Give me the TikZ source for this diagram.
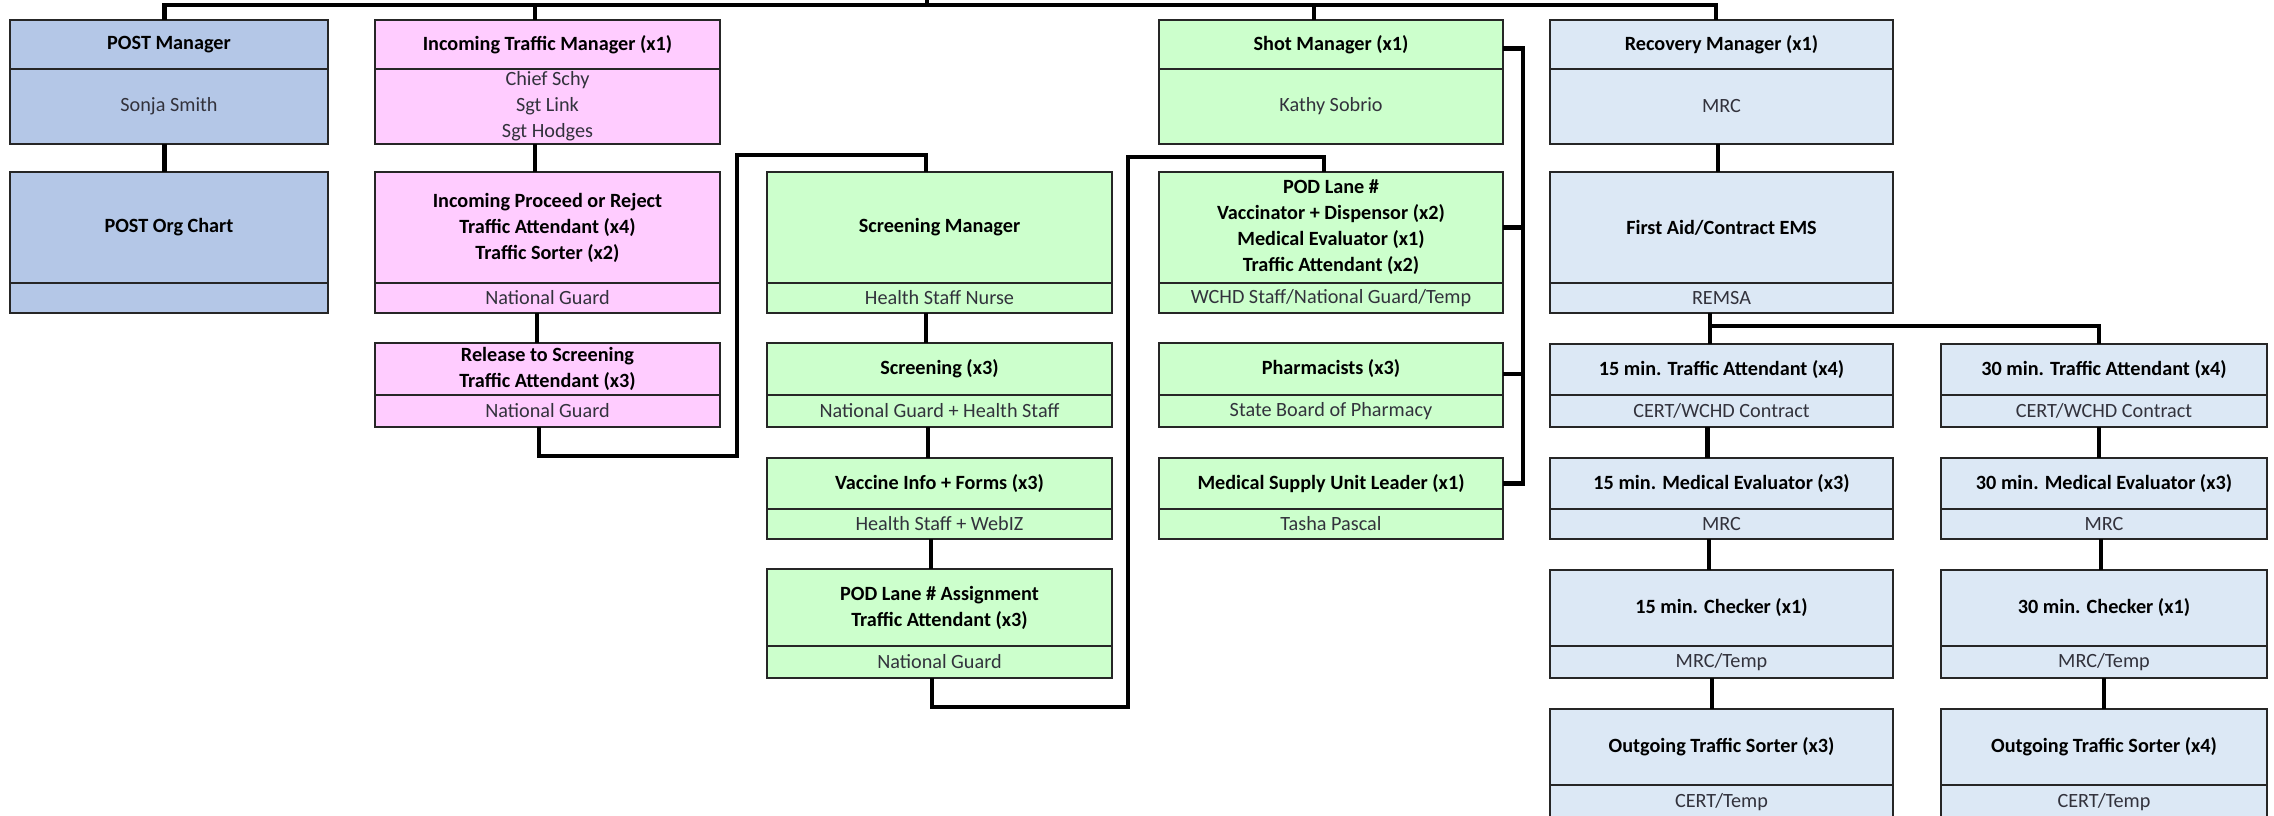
\documentclass[tikz,border=0pt]{standalone}
\usepackage{fontspec}
\setmainfont{Carlito}
\usetikzlibrary{fit,calc}
\definecolor{postblue}{RGB}{180,199,231}
\definecolor{pinkbox}{RGB}{255,204,255}
\definecolor{greenbox}{RGB}{204,255,204}
\definecolor{recblue}{RGB}{220,232,245}
\definecolor{subtext}{RGB}{50,50,60}
\tikzset{
 boxst/.style={draw=black!85, line width=0.55pt, inner sep=0pt, outer sep=0pt},
 divst/.style={draw=black!85, line width=0.55pt},
 hdrst/.style={font=\fontsize{5.75pt}{7.4pt}\selectfont\bfseries, align=center, inner sep=0pt, text=black},
 bodyst/.style={font=\fontsize{5.75pt}{7.4pt}\selectfont, align=center, inner sep=0pt, text=subtext},
 conn/.style={line width=1.25pt, draw=black},
}
\newcommand\obox[9]{%
  \node[boxst, fill=#7, fit={(#2,#3) (#4,#5)}] (#1) {};
  \draw[divst] (#1.west |- 0,#6) -- (#1.east |- 0,#6);
  \coordinate (#1-h) at ($(#1.north)!.5!(#1.north |- 0,#6)$);
  \coordinate (#1-b) at ($(#1.north |- 0,#6)!.5!(#1.south)$);
  \node[hdrst] at (#1-h) {#8};
  \node[bodyst] at (#1-b) {#9};
}
\begin{document}
\begin{tikzpicture}[x=0.01cm, y=-0.01cm]
\useasboundingbox (0,0) rectangle (2274,816);
% POST column
\obox{PM}{10}{20}{328}{144}{69}{postblue}{POST Manager}{Sonja Smith}
\obox{POC}{10}{172}{328}{313}{283}{postblue}{POST Org Chart}{}
% Incoming column
\obox{ITM}{375}{20}{720}{144}{69}{pinkbox}{Incoming Traffic Manager (x1)}{Chief Schy\\Sgt Link\\Sgt Hodges}
\obox{IPR}{375}{172}{720}{313}{283}{pinkbox}{Incoming Proceed or Reject\\Traffic Attendant (x4)\\Traffic Sorter (x2)}{National Guard}
\obox{RTS}{375}{343}{720}{427}{395}{pinkbox}{Release to Screening\\Traffic Attendant (x3)}{National Guard}
% Screening column
\obox{SM}{767}{172}{1112}{313}{283}{greenbox}{Screening Manager}{Health Staff Nurse}
\obox{S3}{767}{343}{1112}{427}{395}{greenbox}{Screening (x3)}{National Guard + Health Staff}
\obox{VI}{767}{458}{1112}{539}{509}{greenbox}{Vaccine Info + Forms (x3)}{Health Staff + WebIZ}
\obox{PLA}{767}{569}{1112}{678}{646}{greenbox}{POD Lane \# Assignment\\Traffic Attendant (x3)}{National Guard}
% Shot column
\obox{ShM}{1159}{20}{1503}{144}{69}{greenbox}{Shot Manager (x1)}{Kathy Sobrio}
\obox{PL}{1159}{172}{1503}{313}{283}{greenbox}{POD Lane \#\\Vaccinator + Dispensor (x2)\\Medical Evaluator (x1)\\Traffic Attendant (x2)}{WCHD Staff/National Guard/Temp}
\obox{Ph}{1159}{343}{1503}{427}{395}{greenbox}{Pharmacists (x3)}{State Board of Pharmacy}
\obox{MS}{1159}{458}{1503}{539}{509}{greenbox}{Medical Supply Unit Leader (x1)}{Tasha Pascal}
% Recovery column
\obox{RM}{1550}{20}{1893}{144}{69}{recblue}{Recovery Manager (x1)}{MRC}
\obox{FA}{1550}{172}{1893}{313}{283}{recblue}{First Aid/Contract EMS}{REMSA}
\obox{TAa}{1550}{344}{1893}{427}{395}{recblue}{15 min. Traffic Attendant (x4)}{CERT/WCHD Contract}
\obox{MEa}{1550}{458}{1893}{539}{509}{recblue}{15 min. Medical Evaluator (x3)}{MRC}
\obox{CHa}{1550}{570}{1893}{678}{646}{recblue}{15 min. Checker (x1)}{MRC/Temp}
\obox{OSa}{1550}{709}{1893}{820}{785}{recblue}{Outgoing Traffic Sorter (x3)}{CERT/Temp}
\obox{TAb}{1941}{344}{2267}{427}{395}{recblue}{30 min. Traffic Attendant (x4)}{CERT/WCHD Contract}
\obox{MEb}{1941}{458}{2267}{539}{509}{recblue}{30 min. Medical Evaluator (x3)}{MRC}
\obox{CHb}{1941}{570}{2267}{678}{646}{recblue}{30 min. Checker (x1)}{MRC/Temp}
\obox{OSb}{1941}{709}{2267}{820}{785}{recblue}{Outgoing Traffic Sorter (x4)}{CERT/Temp}
% top bus
\coordinate (up) at (927,-5);
\draw[conn] ([xshift=-0.045cm]PM.north) |- ([xshift=-0.055cm]RM.north |- 0,5) -- ([xshift=-0.055cm]RM.north);
\draw[conn] ([xshift=-0.125cm]ITM.north) -- ([xshift=-0.125cm]ITM.north |- 0,5);
\draw[conn] ([xshift=-0.17cm]ShM.north) -- ([xshift=-0.17cm]ShM.north |- 0,5);
\draw[conn] (up) -- (up |- 0,5);
% POST
\draw[conn] ([xshift=-0.045cm]PM.south) -- ([xshift=-0.045cm]POC.north);
% Incoming
\draw[conn] ([xshift=-0.125cm]ITM.south) -- ([xshift=-0.125cm]IPR.north);
\draw[conn] ([xshift=-0.105cm]IPR.south) -- ([xshift=-0.105cm]RTS.north);
\draw[conn] ([xshift=-0.085cm]RTS.south) -- ++(0,29) -| ([xshift=-0.3cm]SM.north west |- 0,155) -| ([xshift=-0.135cm]SM.north);
% Screening
\draw[conn] ([xshift=-0.135cm]SM.south) -- ([xshift=-0.135cm]S3.north);
\draw[conn] ([xshift=-0.115cm]S3.south) -- ([xshift=-0.115cm]VI.north);
\draw[conn] ([xshift=-0.085cm]VI.south) -- ([xshift=-0.085cm]PLA.north);
\draw[conn] ([xshift=-0.075cm]PLA.south) -- ++(0,29) -| ([xshift=-0.31cm]PL.north west |- 0,157) -| ([xshift=-0.07cm]PL.north);
% Shot bus
\draw[conn] ([yshift=-0.04cm]ShM.east |- ShM-h) -- ++(20,0) |- (MS.east |- MS-h);
\draw[conn] (PL.east |- PL-h) -- ++(20,0);
\draw[conn] ([yshift=-0.05cm]Ph.east |- Ph-h) -- ++(20,0);
% Recovery
\draw[conn] ([xshift=-0.035cm]RM.south) -- ([xshift=-0.035cm]FA.north);
\draw[conn] ([xshift=-0.115cm]FA.south) -- ([xshift=-0.115cm]TAa.north);
\draw[conn] ([xshift=-0.115cm]FA.south) -- ++(0,13) -| ([xshift=-0.05cm]TAb.north);
\draw[conn] ([xshift=-0.14cm]TAa.south) -- ([xshift=-0.14cm]MEa.north);
\draw[conn] ([xshift=-0.125cm]MEa.south) -- ([xshift=-0.125cm]CHa.north);
\draw[conn] ([xshift=-0.095cm]CHa.south) -- ([xshift=-0.095cm]OSa.north);
\draw[conn] ([xshift=-0.05cm]TAb.south) -- ([xshift=-0.05cm]MEb.north);
\draw[conn] ([xshift=-0.03cm]MEb.south) -- ([xshift=-0.03cm]CHb.north);
\draw[conn] ([xshift=0cm]CHb.south) -- ([xshift=0cm]OSb.north);
\end{tikzpicture}
\end{document}
